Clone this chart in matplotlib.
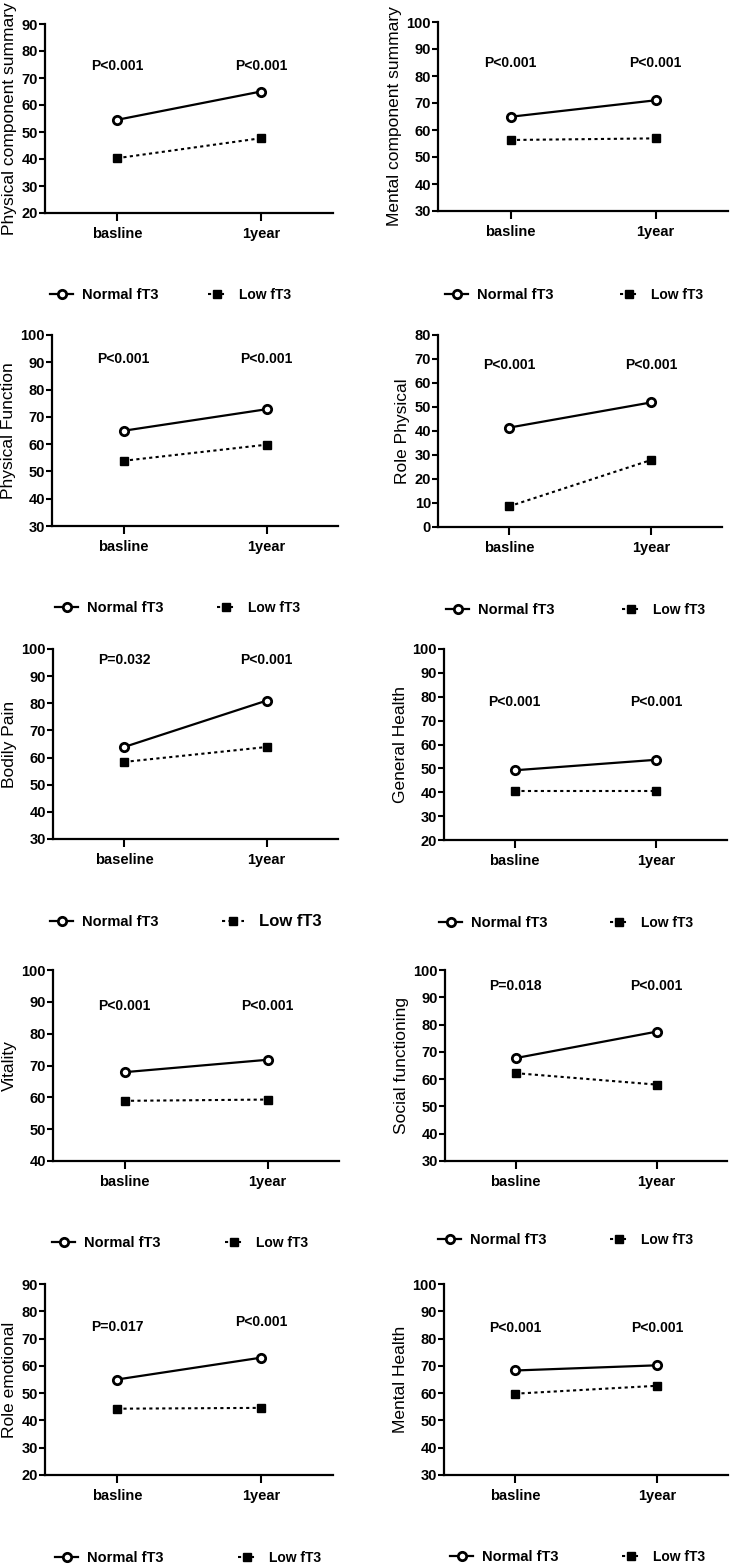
import matplotlib
matplotlib.use("Agg")
import matplotlib.pyplot as plt

plt.rcParams["font.family"] = ["Liberation Sans", "DejaVu Sans"]

# ---- data ----
titles = [
    "Physical component summary", "Mental component summary",
    "Physical Function", "Role Physical",
    "Bodily Pain", "General Health",
    "Vitality", "Social functioning",
    "Role emotional", "Mental Health",
]
x_labels = [
    ["basline", "1year"], ["basline", "1year"],
    ["basline", "1year"], ["basline", "1year"],
    ["baseline", "1year"], ["basline", "1year"],
    ["basline", "1year"], ["basline", "1year"],
    ["basline", "1year"], ["basline", "1year"],
]
normal_ft3 = [
    [54.5, 65.0], [64.9, 71.0],
    [64.9, 72.8], [41.4, 51.9],
    [63.9, 81.0], [49.2, 53.6],
    [67.9, 71.8], [67.7, 77.4],
    [55.0, 63.0], [68.3, 70.2],
]
low_ft3 = [
    [40.3, 47.7], [56.3, 56.9],
    [53.9, 59.8], [8.6, 27.9],
    [58.4, 63.9], [40.4, 40.4],
    [58.9, 59.3], [62.2, 58.0],
    [44.3, 44.6], [59.8, 62.7],
]
p_labels = [
    ["P<0.001", "P<0.001"], ["P<0.001", "P<0.001"],
    ["P<0.001", "P<0.001"], ["P<0.001", "P<0.001"],
    ["P=0.032", "P<0.001"], ["P<0.001", "P<0.001"],
    ["P<0.001", "P<0.001"], ["P=0.018", "P<0.001"],
    ["P=0.017", "P<0.001"], ["P<0.001", "P<0.001"],
]
y_ranges = [
    (20, 90), (30, 100),
    (30, 100), (0, 80),
    (30, 100), (20, 100),
    (40, 100), (30, 100),
    (20, 90), (30, 100),
]

# ---- layout (pixels in a 730x1565 canvas) ----
W, H = 730, 1565
# left, top, right, bottom of each axes
ax_px = [
    (45, 24, 333, 213), (438, 22, 728, 211),
    (52, 335, 338, 526), (438, 335, 722, 527),
    (53, 649, 338, 839), (444, 649, 727, 840),
    (53, 970, 339, 1161), (445, 970, 727, 1161),
    (45, 1284, 333, 1475), (444, 1284, 728, 1475),
]
p_y = [
    (74.4, 74.4), (84.8, 84.8),
    (91.2, 91.2), (67.5, 67.5),
    (96.0, 96.0), (77.8, 77.8),
    (88.7, 88.7), (94.1, 94.1),
    (74.3, 76.1), (83.9, 83.9),
]
# legend: (normal handle start x, low handle start x, y)
leg_px = [
    (50, 208, 295), (445, 620, 295),
    (55, 217, 608), (446, 622, 610),
    (50, 222, 922), (439, 610, 923),
    (52, 225, 1243), (438, 610, 1240),
    (55, 238, 1558), (450, 622, 1557),
]
low_leg_size = [10, 10, 10, 10, 12, 10, 10, 10, 10, 10]

fig = plt.figure(figsize=(W / 100, H / 100), dpi=100)

for i in range(len(titles)):
    l, t, r, b = ax_px[i]
    ax = fig.add_axes((l / W, 1 - b / H, (r - l) / W, (b - t) / H))
    xs = [0, 1]
    (ln_n,) = ax.plot(xs, normal_ft3[i], color="black", lw=1.6, marker="o",
                      ms=6, mfc="white", mec="black", mew=2, zorder=3)
    (ln_l,) = ax.plot(xs, low_ft3[i], color="black", lw=1.5, ls=(0, (1.5, 1.6)),
                      marker="s", ms=5.5, mfc="black", mec="black", zorder=3)

    lo, hi = y_ranges[i]
    ax.set_ylim(lo, hi)
    ax.set_yticks(range(lo, hi + 1, 10))
    ax.set_xlim(-0.5, 1.5)
    ax.set_xticks(xs)
    ax.set_xticklabels(x_labels[i], fontsize=10.5, fontweight="bold")
    for lab in ax.get_yticklabels():
        lab.set_fontsize(10.5)
        lab.set_fontweight("bold")
    ax.set_ylabel(titles[i], fontsize=12.5, labelpad=3)
    ax.spines["top"].set_visible(False)
    ax.spines["right"].set_visible(False)
    for s in ("left", "bottom"):
        ax.spines[s].set_linewidth(1.6)
    ax.tick_params(axis="y", direction="out", length=4, width=1.5, pad=1)
    ax.tick_params(axis="x", direction="out", length=6, width=1.5, pad=4)

    for k in range(2):
        ax.text(xs[k], p_y[i][k], p_labels[i][k], ha="center", va="center",
                fontsize=10, fontweight="bold")

    nx, lx, ly = leg_px[i]
    fig.legend(handles=[ln_n], labels=["Normal fT3"], loc="center left",
               bbox_to_anchor=(nx / W, 1 - ly / H), frameon=False,
               borderpad=0, borderaxespad=0, handlelength=1.6,
               handletextpad=0.6, numpoints=1,
               prop={"size": 10.5, "weight": "bold"})
    fig.legend(handles=[ln_l], labels=["Low fT3"], loc="center left",
               bbox_to_anchor=(lx / W, 1 - ly / H), frameon=False,
               borderpad=0, borderaxespad=0, handlelength=1.3,
               handletextpad=0.9, numpoints=1,
               prop={"size": low_leg_size[i], "weight": "bold"})

fig.savefig("out.png", dpi=100)
